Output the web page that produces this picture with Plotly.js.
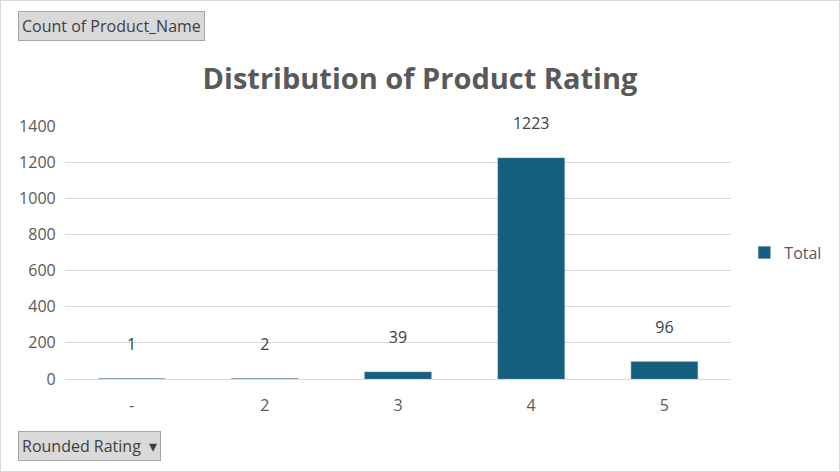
<!DOCTYPE html>
<html>
<head>
<meta charset="utf-8">
<script src="https://cdn.plot.ly/plotly-3.0.1.min.js"></script>
<style>
  body { margin: 0; }
  #chart { width: 838px; height: 470px; border: 1px solid #d9d9d9; }
</style>
</head>
<body>
<div id="chart"></div>
<script>
// pivot chart: count of products per rounded rating
const ratings = ['-', '2', '3', '4', '5'];
const counts = [1, 2, 39, 1223, 96];

const font = 'Open Sans, Noto Sans, sans-serif';

let total = {
  x: ratings,
  y: counts,
  type: 'bar',
  name: 'Total',
  text: counts.map(String),
  texttemplate: '%{text}<br> ',
  textposition: 'outside',
  cliponaxis: false,
  textfont: { size: 16, color: '#404040', family: font },
  marker: { color: '#16607f', line: { color: '#5a7f92', width: 0.5 } }
};

let layout = {
  width: 838, height: 470,
  paper_bgcolor: 'white',
  plot_bgcolor: 'white',
  font: { family: font, size: 16, color: '#595959' },
  margin: { l: 64, r: 108, t: 125, b: 92 },
  bargap: 0.5,
  title: {
    text: '<b>Distribution of Product Rating</b>',
    font: { size: 29, color: '#595959', family: font },
    x: 0.5, xanchor: 'center', y: 0.835, yanchor: 'middle'
  },
  xaxis: { type: 'category', showgrid: false, linecolor: '#d9d9d9', ticks: '', ticklabelstandoff: 12, tickfont: { size: 16 } },
  yaxis: { range: [0, 1400], dtick: 200, gridcolor: '#d9d9d9', zeroline: false, tickfont: { size: 16 }, ticksuffix: '  ' },
  showlegend: true,
  legend: { x: 1.02, y: 0.5, yanchor: 'middle', font: { size: 16, color: '#595959' } },
  annotations: [
    { text: 'Count of Product_Name', xref: 'paper', yref: 'paper', x: -0.07, y: 1.395, xanchor: 'left', yanchor: 'middle',
      showarrow: false, bgcolor: '#d9d9d9', bordercolor: '#a6a6a6', borderwidth: 1, borderpad: 3,
      font: { size: 16, color: '#404040' } },
    { text: 'Rounded Rating  ▾', xref: 'paper', yref: 'paper', x: -0.07, y: -0.265, xanchor: 'left', yanchor: 'middle',
      showarrow: false, bgcolor: '#d9d9d9', bordercolor: '#a6a6a6', borderwidth: 1, borderpad: 3,
      font: { size: 16, color: '#404040' } }
  ]
};

Plotly.newPlot('chart', [total], layout, { staticPlot: true, displaylogo: false });
</script>
</body>
</html>
